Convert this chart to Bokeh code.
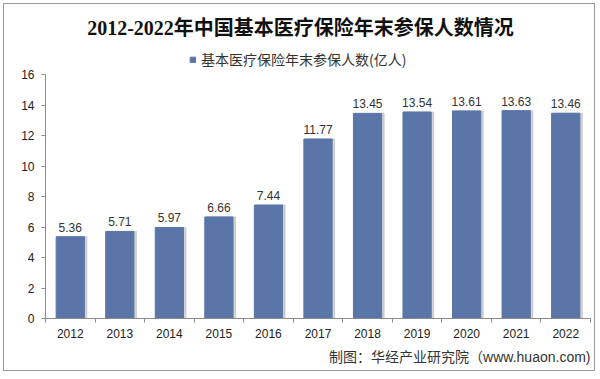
from bokeh.plotting import figure
from bokeh.models import (ColumnDataSource, FixedTicker, Label, LabelSet, Legend, LegendItem, Range1d, Title)
from bokeh.core.properties import value
from bokeh.embed import file_html
from bokeh.resources import INLINE

years = ["2012", "2013", "2014", "2015", "2016", "2017", "2018", "2019", "2020", "2021", "2022"]
values = [5.36, 5.71, 5.97, 6.66, 7.44, 11.77, 13.45, 13.54, 13.61, 13.63, 13.46]
y_ticks = [0, 2, 4, 6, 8, 10, 12, 14, 16]
y_axis_max = 16
title_text = "2012-2022年中国基本医疗保险年末参保人数情况"
legend_text = "基本医疗保险年末参保人数(亿人)"
source_text = "制图：华经产业研究院（www.huaon.com)"

BAR = "#5A75A7"
AXIS = "#8C8C8C"
SANS = "Liberation Sans, Noto Sans CJK SC"
CJK = "Noto Sans CJK SC"

# frame spans from the canvas top down to the zero line; the axis itself stops at 16
FRAME_H = 314
AXIS_H = 244
xpos = [i + 0.5 for i in range(len(years))]
src = ColumnDataSource(dict(x=xpos, top=values, label=[f"{v:.2f}" for v in values],
                            xs=[x + 0.05 for x in xpos]))

p = figure(width=592, height=368, output_backend="svg", toolbar_location=None,
           x_range=Range1d(0, len(years)), y_range=Range1d(0, y_axis_max * FRAME_H / AXIS_H),
           min_border_left=41, min_border_right=6, min_border_top=0, min_border_bottom=54)
p.styles = {"border": "1px solid #9a9a9a", "margin-left": "3px", "margin-top": "3px"}
p.outline_line_color = None
p.grid.visible = False
p.background_fill_color = "white"

# shadow + bars
p.vbar(x="xs", top="top", width=0.57, bottom=0, source=src, color="#b0b0b0", alpha=0.55)
r = p.vbar(x="x", top="top", width=0.57, bottom=0, source=src, color=BAR)

# x axis
p.xaxis.ticker = FixedTicker(ticks=xpos, minor_ticks=list(range(len(years) + 1)))
p.xaxis.major_label_overrides = {x: y for x, y in zip(xpos, years)}
p.xaxis.major_tick_out = 0
p.xaxis.major_tick_in = 0
p.xaxis.minor_tick_out = 4
p.xaxis.minor_tick_in = 0
p.xaxis.axis_line_color = AXIS
p.xaxis.minor_tick_line_color = AXIS
p.xaxis.major_label_text_font = SANS
p.xaxis.major_label_text_font_size = "12px"
p.xaxis.major_label_text_color = "#222222"
p.xaxis.major_label_standoff = 6

# y axis
p.yaxis.ticker = FixedTicker(ticks=y_ticks)
p.yaxis.bounds = (0, y_axis_max)
p.yaxis.major_tick_out = 4
p.yaxis.major_tick_in = 0
p.yaxis.minor_tick_line_color = None
p.yaxis.axis_line_color = AXIS
p.yaxis.major_tick_line_color = AXIS
p.yaxis.major_label_text_font = SANS
p.yaxis.major_label_text_font_size = "12px"
p.yaxis.major_label_text_color = "#222222"
p.yaxis.major_label_standoff = 7

# value labels
p.add_layout(LabelSet(x="x", y="top", text="label", source=src, y_offset=5,
                      text_align="center", text_baseline="bottom",
                      text_font=value(SANS), text_font_size="12px", text_color="#333333"))

# title (inside the tall frame)
p.add_layout(Label(x=255, y=291, x_units="screen", y_units="screen", text=title_text,
                   text_align="center", text_baseline="middle",
                   text_font="Liberation Serif, Noto Sans CJK SC", text_font_style="bold",
                   text_font_size="20px", text_color="#111111"))

# legend
legend = Legend(items=[LegendItem(label=legend_text, renderers=[r])], location=(144, 249),
                orientation="horizontal", border_line_color=None, background_fill_alpha=0,
                glyph_width=7, glyph_height=7, label_text_font=CJK, label_text_font_size="14px",
                label_text_color="#333333", padding=0, margin=0, label_standoff=5)
p.add_layout(legend)

# source note
p.add_layout(Title(text=source_text, align="right", standoff=12,
                   text_font=SANS, text_font_style="normal",
                   text_font_size="14px", text_color="#333333"), "below")

open("out.html", "w").write(file_html(p, INLINE))
